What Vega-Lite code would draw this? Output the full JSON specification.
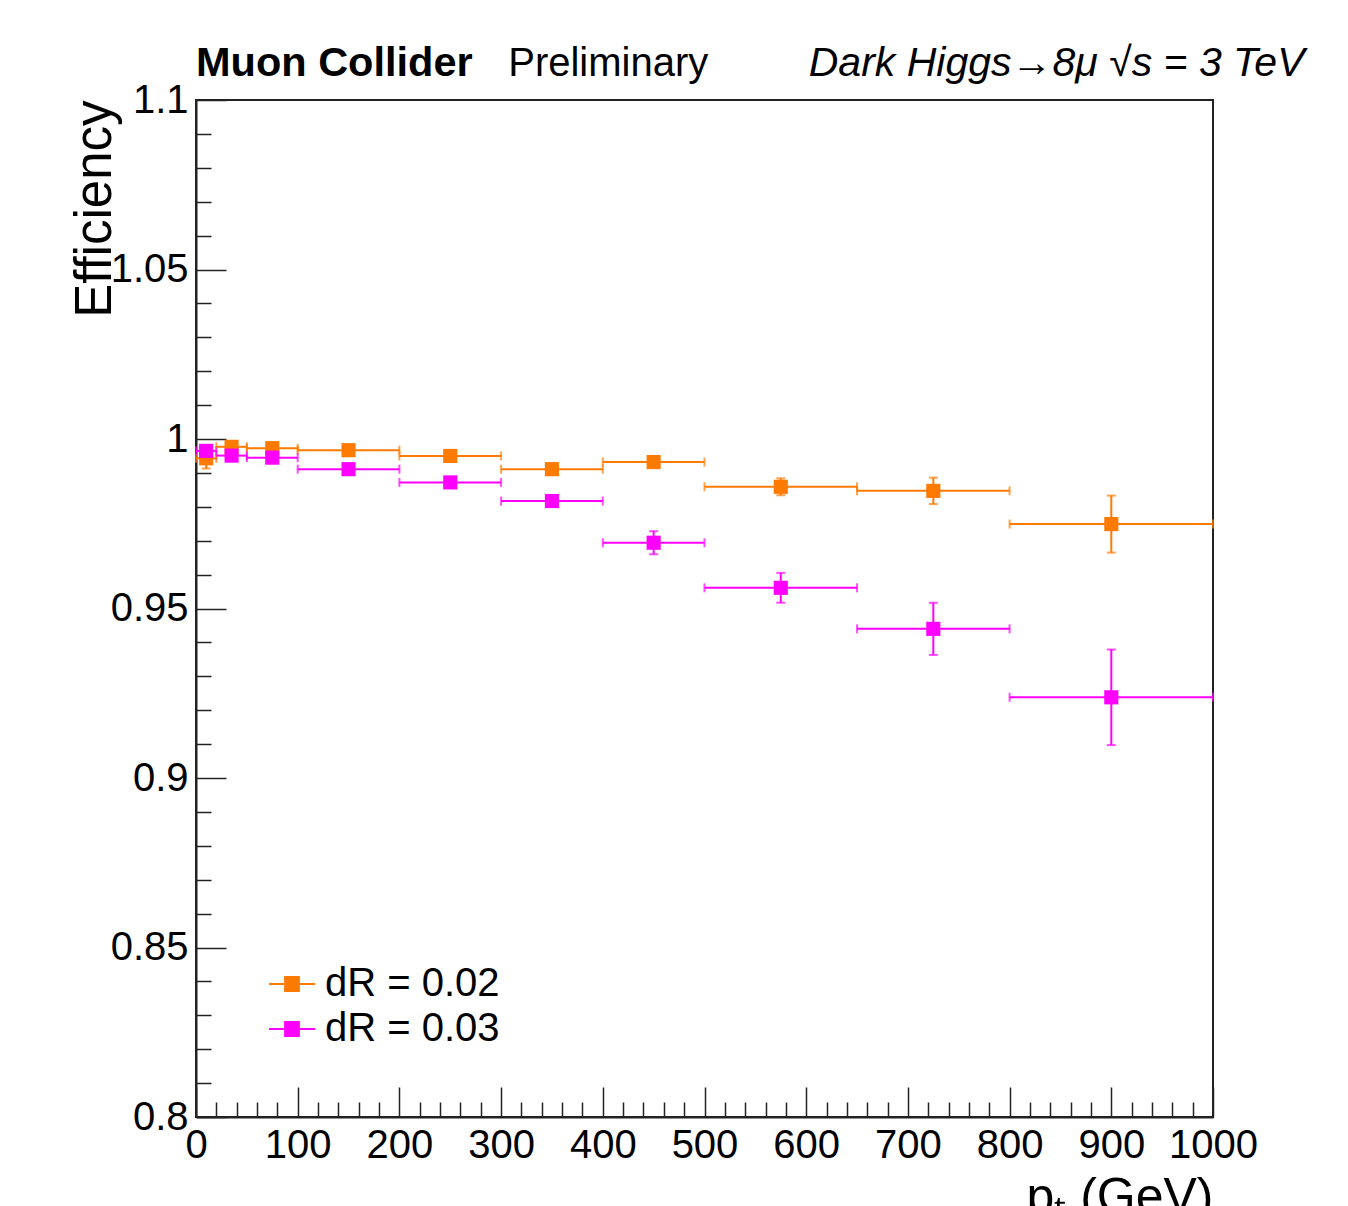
{
  "$schema": "https://vega.github.io/schema/vega-lite/v6.json",
  "width": 1017,
  "height": 1017,
  "autosize": "none",
  "padding": {"left": 196, "top": 100, "right": 135, "bottom": 89},
  "background": "white",
  "config": {
    "font": "Liberation Sans",
    "view": {"stroke": "#222", "strokeWidth": 2},
    "axis": {"grid": false, "labelFont": "Liberation Sans", "titleFont": "Liberation Sans", "labelColor": "black", "titleColor": "black", "tickColor": "#222", "domainColor": "#222", "domainWidth": 2, "tickWidth": 1.5, "labelFlush": false, "labelOverlap": false}
  },
  "data": {"values": [
    {"series": "dR = 0.02", "x": 10, "xlo": 0, "xhi": 20, "eff": 0.9943, "ylo": 0.9913, "yhi": 0.9973},
    {"series": "dR = 0.02", "x": 35, "xlo": 20, "xhi": 50, "eff": 0.9977, "ylo": 0.9972, "yhi": 0.9982},
    {"series": "dR = 0.02", "x": 75, "xlo": 50, "xhi": 100, "eff": 0.9973, "ylo": 0.9968, "yhi": 0.9978},
    {"series": "dR = 0.02", "x": 150, "xlo": 100, "xhi": 200, "eff": 0.9967, "ylo": 0.9962, "yhi": 0.9972},
    {"series": "dR = 0.02", "x": 250, "xlo": 200, "xhi": 300, "eff": 0.9950, "ylo": 0.9944, "yhi": 0.9956},
    {"series": "dR = 0.02", "x": 350, "xlo": 300, "xhi": 400, "eff": 0.9911, "ylo": 0.9903, "yhi": 0.9919},
    {"series": "dR = 0.02", "x": 450, "xlo": 400, "xhi": 500, "eff": 0.9932, "ylo": 0.9924, "yhi": 0.9940},
    {"series": "dR = 0.02", "x": 575, "xlo": 500, "xhi": 650, "eff": 0.9859, "ylo": 0.9834, "yhi": 0.9884},
    {"series": "dR = 0.02", "x": 725, "xlo": 650, "xhi": 800, "eff": 0.9847, "ylo": 0.9808, "yhi": 0.9886},
    {"series": "dR = 0.02", "x": 900, "xlo": 800, "xhi": 1000, "eff": 0.9749, "ylo": 0.9665, "yhi": 0.9833},
    {"series": "dR = 0.03", "x": 10, "xlo": 0, "xhi": 20, "eff": 0.9965, "ylo": 0.9955, "yhi": 0.9975},
    {"series": "dR = 0.03", "x": 35, "xlo": 20, "xhi": 50, "eff": 0.9951, "ylo": 0.9943, "yhi": 0.9959},
    {"series": "dR = 0.03", "x": 75, "xlo": 50, "xhi": 100, "eff": 0.9945, "ylo": 0.9937, "yhi": 0.9953},
    {"series": "dR = 0.03", "x": 150, "xlo": 100, "xhi": 200, "eff": 0.9911, "ylo": 0.9901, "yhi": 0.9921},
    {"series": "dR = 0.03", "x": 250, "xlo": 200, "xhi": 300, "eff": 0.9872, "ylo": 0.9860, "yhi": 0.9884},
    {"series": "dR = 0.03", "x": 350, "xlo": 300, "xhi": 400, "eff": 0.9817, "ylo": 0.9802, "yhi": 0.9832},
    {"series": "dR = 0.03", "x": 450, "xlo": 400, "xhi": 500, "eff": 0.9694, "ylo": 0.9660, "yhi": 0.9728},
    {"series": "dR = 0.03", "x": 575, "xlo": 500, "xhi": 650, "eff": 0.9561, "ylo": 0.9517, "yhi": 0.9605},
    {"series": "dR = 0.03", "x": 725, "xlo": 650, "xhi": 800, "eff": 0.9440, "ylo": 0.9363, "yhi": 0.9517},
    {"series": "dR = 0.03", "x": 900, "xlo": 800, "xhi": 1000, "eff": 0.9238, "ylo": 0.9097, "yhi": 0.9379}
  ]},
  "layer": [
    {
      "layer": [
        {
          "mark": {"type": "errorbar", "ticks": {"size": 9, "thickness": 2}, "thickness": 2},
          "encoding": {
            "x": {"field": "xlo", "type": "quantitative", "title": "pₜ (GeV)", "scale": {"domain": [0, 1000], "nice": false, "zero": false},
              "axis": {"orient": "bottom", "values": [0, 100, 200, 300, 400, 500, 600, 700, 800, 900, 1000], "format": "d", "labelFontSize": 40, "labelPadding": 38, "tickSize": -30, "titleFontSize": 50, "titleFontWeight": "normal", "titleAnchor": "end", "titleAlign": "right", "titleBaseline": "alphabetic", "titleX": 1017, "titleY": 95}},
            "x2": {"field": "xhi"},
            "y": {"field": "eff", "type": "quantitative", "title": "Efficiency", "scale": {"domain": [0.8, 1.1], "nice": false, "zero": false},
              "axis": {"orient": "left", "values": [0.8, 0.85, 0.9, 0.95, 1, 1.05, 1.1], "format": "~g", "labelFontSize": 40, "labelPadding": 38, "tickSize": -30, "titleFontSize": 51, "titleFontWeight": "normal", "titleAngle": 270, "titleAlign": "right", "titleBaseline": "alphabetic", "titleX": -86, "titleY": 0}},
            "color": {"field": "series", "type": "nominal", "scale": {"domain": ["dR = 0.02", "dR = 0.03"], "range": ["#ff7a00", "#ff00ff"]},
              "legend": {"title": null, "orient": "none", "legendX": 72, "legendY": 860, "padding": 0, "labelFont": "Liberation Sans", "labelFontSize": 40, "labelColor": "black", "labelLimit": 500, "labelOffset": 9, "rowPadding": 1, "symbolSize": 2116, "symbolType": "M-1,0H1M-0.3,-0.3H0.3V0.3H-0.3Z", "symbolStrokeWidth": 2,
                "encode": {"symbols": {"update": {"stroke": {"scale": "color", "field": "value"}, "fill": {"scale": "color", "field": "value"}, "strokeWidth": {"value": 2}, "opacity": {"value": 1}}}}}}
          }
        },
        {
          "mark": {"type": "errorbar", "ticks": {"size": 9, "thickness": 2}, "thickness": 2},
          "encoding": {
            "x": {"field": "x", "type": "quantitative", "title": "pₜ (GeV)", "scale": {"domain": [0, 1000], "nice": false, "zero": false}},
            "y": {"field": "ylo", "type": "quantitative", "title": "Efficiency", "scale": {"domain": [0.8, 1.1], "nice": false, "zero": false}},
            "y2": {"field": "yhi"},
            "color": {"field": "series", "type": "nominal"}
          }
        },
        {
          "mark": {"type": "point", "shape": "square", "filled": true, "size": 200, "opacity": 1},
          "encoding": {
            "x": {"field": "x", "type": "quantitative", "title": "pₜ (GeV)", "scale": {"domain": [0, 1000], "nice": false, "zero": false}},
            "y": {"field": "eff", "type": "quantitative", "title": "Efficiency", "scale": {"domain": [0.8, 1.1], "nice": false, "zero": false}},
            "color": {"field": "series", "type": "nominal"}
          }
        },
        {
          "data": {"values": [{}]},
          "mark": {"type": "text", "align": "left", "baseline": "alphabetic", "fontSize": 41.5, "fontWeight": "bold", "font": "Liberation Sans", "color": "black"},
          "encoding": {
            "x": {"datum": 0, "type": "quantitative", "title": "pₜ (GeV)", "scale": {"domain": [0, 1000], "nice": false, "zero": false}},
            "y": {"datum": 1.1072, "type": "quantitative", "title": "Efficiency", "scale": {"domain": [0.8, 1.1], "nice": false, "zero": false}},
            "text": {"value": "Muon Collider"}
          }
        },
        {
          "data": {"values": [{}]},
          "mark": {"type": "text", "align": "left", "baseline": "alphabetic", "fontSize": 40, "font": "Liberation Sans", "color": "black"},
          "encoding": {
            "x": {"datum": 307, "type": "quantitative", "title": "pₜ (GeV)", "scale": {"domain": [0, 1000], "nice": false, "zero": false}},
            "y": {"datum": 1.1072, "type": "quantitative", "title": "Efficiency", "scale": {"domain": [0.8, 1.1], "nice": false, "zero": false}},
            "text": {"value": "Preliminary"}
          }
        },
        {
          "data": {"values": [{}]},
          "mark": {"type": "text", "align": "right", "baseline": "alphabetic", "fontSize": 41, "fontStyle": "italic", "font": "Liberation Sans", "color": "black"},
          "encoding": {
            "x": {"datum": 1090, "type": "quantitative", "title": "pₜ (GeV)", "scale": {"domain": [0, 1000], "nice": false, "zero": false}},
            "y": {"datum": 1.1072, "type": "quantitative", "title": "Efficiency", "scale": {"domain": [0.8, 1.1], "nice": false, "zero": false}},
            "text": {"value": "Dark Higgs→8μ  √s = 3 TeV"}
          }
        }
      ]
    },
    {
      "mark": {"type": "point", "opacity": 0},
      "encoding": {
        "x": {"field": "x", "type": "quantitative", "scale": {"domain": [0, 1000], "nice": false, "zero": false},
          "axis": {"orient": "bottom", "title": null, "labels": false, "domain": false, "tickSize": -15, "values": [20, 40, 60, 80, 120, 140, 160, 180, 220, 240, 260, 280, 320, 340, 360, 380, 420, 440, 460, 480, 520, 540, 560, 580, 620, 640, 660, 680, 720, 740, 760, 780, 820, 840, 860, 880, 920, 940, 960, 980]}},
        "y": {"field": "eff", "type": "quantitative", "scale": {"domain": [0.8, 1.1], "nice": false, "zero": false},
          "axis": {"orient": "left", "title": null, "labels": false, "domain": false, "tickSize": -15, "values": [0.81, 0.82, 0.83, 0.84, 0.86, 0.87, 0.88, 0.89, 0.91, 0.92, 0.93, 0.94, 0.96, 0.97, 0.98, 0.99, 1.01, 1.02, 1.03, 1.04, 1.06, 1.07, 1.08, 1.09]}}
      }
    }
  ],
  "resolve": {"axis": {"x": "independent", "y": "independent"}}
}
